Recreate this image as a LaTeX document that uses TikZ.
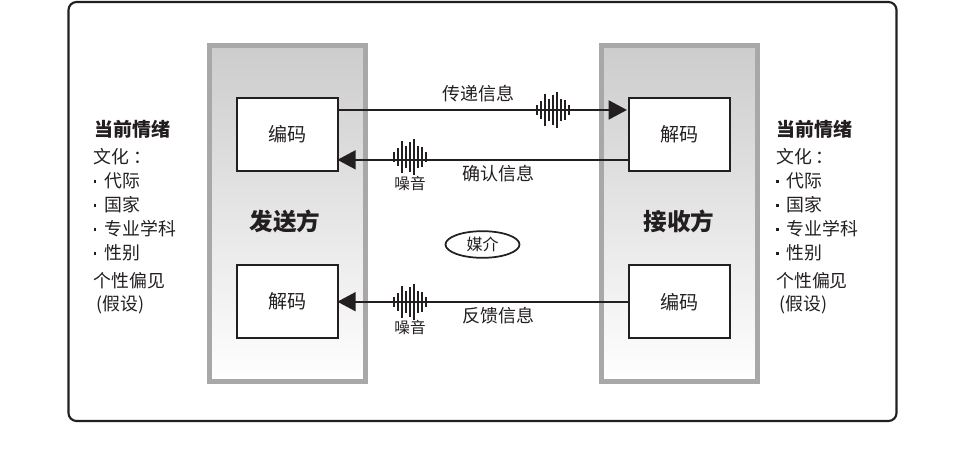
\documentclass[tikz,border=0pt]{standalone}
\usepackage{fontspec}
\setmainfont{Noto Sans CJK SC}
\usetikzlibrary{arrows.meta,shapes.geometric}
\definecolor{ink}{HTML}{231F20}
\definecolor{bord}{HTML}{A8A8A8}
\newcommand{\burst}[2]{%
  \begin{scope}[shift={(#1,#2)}]
  \foreach \i/\h in {-16/5,-12/9,-8/16,-4/11,0/15,4/18,8/11,12/10,16/5}
    \draw[ink,line width=0.95pt] (\i,-\h) -- (\i,\h);
  \end{scope}}
\tikzset{
  msgbox/.style={draw=ink,fill=white,line width=1.5pt,inner sep=0,minimum width=75.5pt,minimum height=54.3pt,font=\fontsize{14.3}{14.3}\selectfont,text=ink},
  msg/.style={-{Triangle[length=13.7pt,width=14.2pt]},ink,line width=1.5pt,shorten >=-1pt},
  lab/.style={font=\fontsize{13.5}{13.5}\selectfont,text=ink,inner sep=0},
  small/.style={font=\fontsize{11.7}{12}\selectfont,text=ink,inner sep=0},
  side/.style={font=\fontsize{13.4}{13.4}\selectfont,text=ink,inner sep=0,anchor=west},
  sideh/.style={font=\bfseries\fontsize{14.2}{14.2}\selectfont,text=ink,inner sep=0,anchor=west},
  big/.style={font=\bfseries\fontsize{17.7}{18}\selectfont,text=ink,inner sep=0},
  bul/.style={fill=ink,inner sep=0,minimum size=2.2pt},
}
\begin{document}
\begin{tikzpicture}[x=0.75pt,y=-0.75pt]
\useasboundingbox (0,0) rectangle (970,459);
\fill[white] (0,0) rectangle (970,459);
\draw[ink,line width=1.6pt,rounded corners=6pt] (68.5,2) rectangle (896.5,421);

\shade[top color=black!20,bottom color=white] (208,44) rectangle (367,383);
\draw[bord,line width=3.6pt] (209.7,45.7) rectangle (365.3,381.3);
\shade[top color=black!20,bottom color=white] (600,44) rectangle (759,383);
\draw[bord,line width=3.6pt] (601.3,45.7) rectangle (757.5,381.3);

\node[msgbox] (enc1) at (287.4,134.5) {编码};
\node[msgbox] (dec1) at (287.4,301.7) {解码};
\node[msgbox] (dec2) at (679.6,134.5) {解码};
\node[msgbox] (enc2) at (679.6,301.7) {编码};

\draw[msg] ([yshift=18.4pt]enc1.east) -- ([yshift=18.4pt,xshift=-2pt]dec2.west);
\draw[msg] ([yshift=-19pt]dec2.west) -- ([yshift=-19pt]enc1.east);
\draw[msg] (enc2.west) -- (dec1.east);

\burst{553}{110}
\burst{410}{157}
\burst{410}{302}

\node[lab] (t1) at (478.5,94) {传递信息};
\node[lab] (t2) at (498.5,174) {确认信息};
\node[lab] (t3) at (498.5,316) {反馈信息};
\node[small] (n1) at (410,184) {噪音};
\node[small] (n2) at (410,328) {噪音};

\node[big] (send) at (285,221) {发送方};
\node[big] (recv) at (679,221) {接收方};
\node[draw=ink,fill=white,line width=1.3pt,ellipse,minimum width=55.5pt,minimum height=20pt,inner sep=0,font=\fontsize{12}{12}\selectfont,text=ink] (media) at (482.5,244.5) {媒介};

\foreach \x/\o/\hh/\pre in {93.5/11/1/L,776/10.3/0/R}{
  \node[sideh] (h\pre) at (\x+\hh,129) {当前情绪};
  \node[side] (a\pre) at (\x,157) {文化\hspace{3pt}：};
  \node[bul] (b1\pre) at (\x+1.5,181.7) {};
  \node[side] (c1\pre) at (\x+\o,181) {代际};
  \node[bul] (b2\pre) at (\x+1.5,205.3) {};
  \node[side] (c2\pre) at (\x+\o,205) {国家};
  \node[bul] (b3\pre) at (\x+1.5,229.3) {};
  \node[side] (c3\pre) at (\x+\o,229) {专业学科};
  \node[bul] (b4\pre) at (\x+1.5,253.3) {};
  \node[side] (c4\pre) at (\x+\o,253) {性别};
  \node[side] (d\pre) at (\x,281) {个性偏见};
  \node[side] (e\pre) at (\x+3,305) {(假设)};
}
\end{tikzpicture}
\end{document}
